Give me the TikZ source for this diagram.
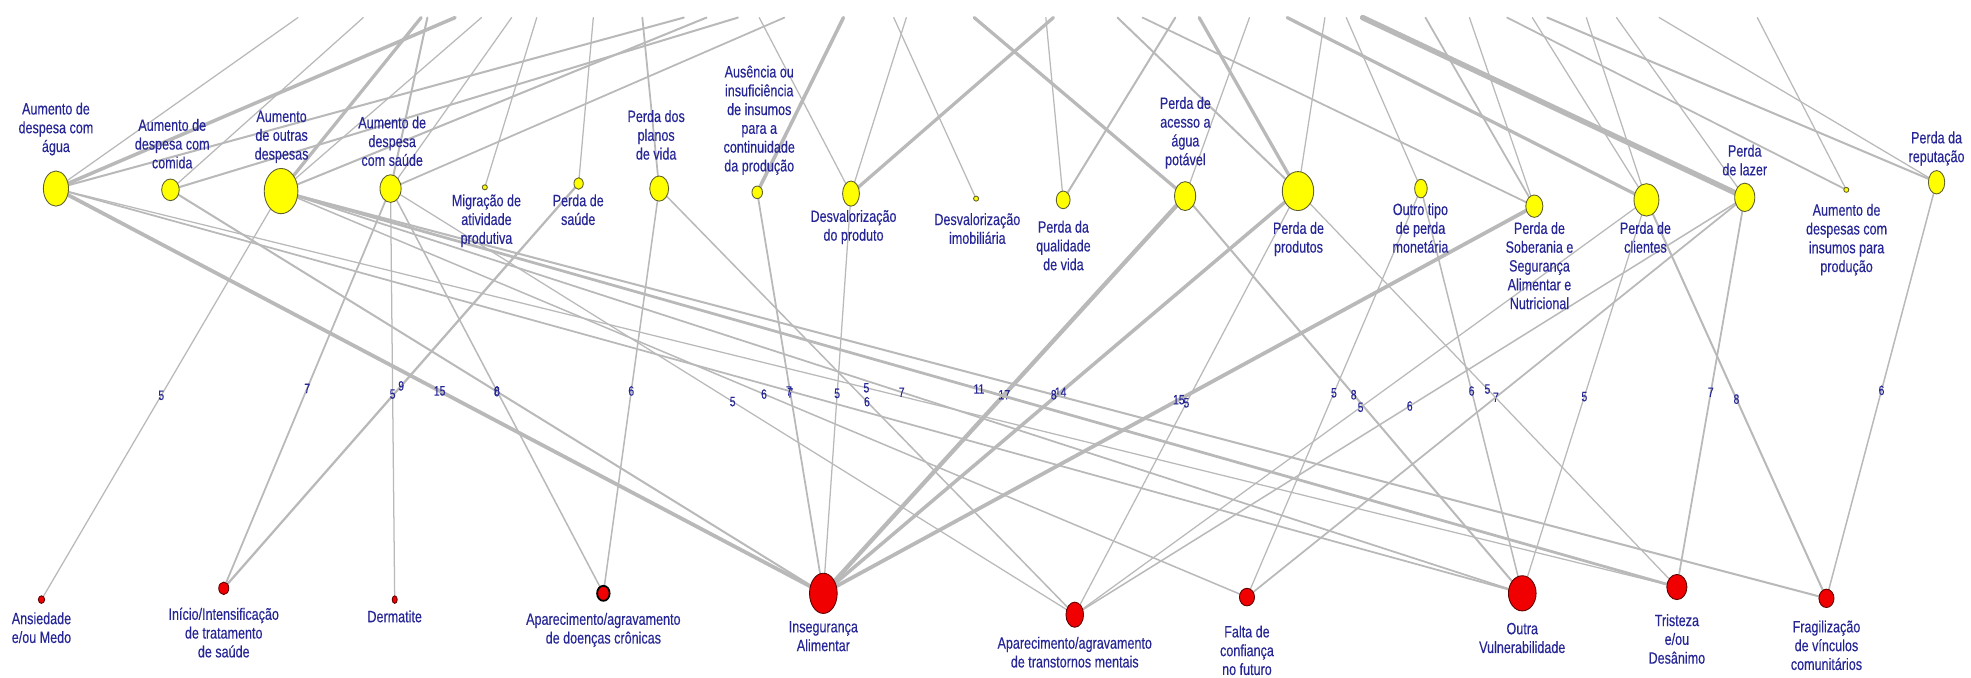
\documentclass[tikz,border=0pt]{standalone}
\usepackage{fontspec}
\setmainfont{Liberation Sans}
\newfontfamily\lblfont[FakeBold=0.35]{Liberation Sans}
\usetikzlibrary{shapes.geometric,backgrounds}
\definecolor{lblue}{RGB}{38,38,150}
\definecolor{edgegray}{RGB}{185,185,185}
\definecolor{ynode}{RGB}{255,255,0}
\definecolor{ybord}{RGB}{95,95,45}
\definecolor{rnode}{RGB}{240,0,0}
\definecolor{rbord}{RGB}{95,0,0}
\newcommand{\lbl}[1]{\scalebox{1}[1.3]{\begin{tabular}{@{}c@{}}#1\end{tabular}}}
\newcommand{\yn}[5]{\node[ynd, minimum width=#4*2pt, minimum height=#5*2pt] (#1) at (#2,#3) {};}
\newcommand{\rn}[5]{\node[rnd, minimum width=#4*2pt, minimum height=#5*2pt] (#1) at (#2,#3) {};}
\newcommand{\ed}[3]{\draw[edge, line width=#3*0.2pt] (#1.center) -- (#2.center);}
\newcommand{\edl}[3]{\draw[edge, line width=#3*0.2pt] (#1.center) -- node[elbl]{\scalebox{1}[1.3]{#3}} (#2.center);}
\begin{document}
\begin{tikzpicture}[x=1pt,y=-1pt,
  edge/.style={draw=edgegray, line cap=round},
  ynd/.style={ellipse, draw=ybord, fill=ynode, line width=0.7pt, inner sep=0pt, outer sep=0pt},
  rnd/.style={ellipse, draw=rbord, fill=rnode, line width=0.7pt, inner sep=0pt, outer sep=0pt},
  lab/.style={text=lblue, font=\lblfont\fontsize{10}{11.5}\selectfont, inner sep=0pt},
  elbl/.style={text=lblue, font=\lblfont\fontsize{8.3}{9}\selectfont, inner sep=0pt}]
\useasboundingbox (0,0) rectangle (1568,539);
\clip (0,0) rectangle (1568,539);
% middle (yellow) nodes
\yn{agua}{44.5}{150}{10}{14}
\yn{comida}{135.6}{151}{7}{8.6}
\yn{outras}{223.6}{152}{13.4}{18}
\yn{saude}{310.7}{150}{8.4}{11}
\yn{migr}{385.7}{149}{2}{2}
\yn{psaude}{460.3}{146}{3.7}{4.6}
\yn{planos}{524.4}{150}{7.5}{10}
\yn{ausen}{602.4}{153}{4.2}{5}
\yn{dprod}{677}{154}{6.7}{10}
\yn{dimob}{776.5}{158}{2}{2}
\yn{qual}{845.8}{159}{5.5}{7}
\yn{acesso}{942.8}{156}{8.4}{11.5}
\yn{prod}{1032.6}{152}{12.5}{15.5}
\yn{outro}{1130.4}{150}{5}{7.4}
\yn{sober}{1220.6}{164}{6.8}{8.9}
\yn{client}{1309.8}{159}{9.9}{12.9}
\yn{lazer}{1388}{157}{8}{11.3}
\yn{insum}{1468.8}{151}{2}{2}
\yn{reput}{1540.6}{145}{6.5}{9.3}
% bottom (red) nodes
\rn{ansi}{33}{477}{2.5}{3}
\rn{inic}{178}{468}{4}{5}
\rn{derm}{314}{477}{2}{3}
\node[rnd, draw=black, line width=1.4pt, minimum width=10pt, minimum height=12pt] (cron) at (480,472) {};
\rn{inseg}{655}{472}{11}{16}
\rn{trans}{855}{489}{7}{10}
\rn{falta}{992}{475}{6}{7}
\rn{outra}{1211}{472}{11}{14}
\rn{trist}{1334}{467}{8}{10}
\rn{frag}{1453}{476}{6}{7.3}
% free ends at the top edge
\foreach \n/\x in {t1/237,t2/289,t3/335,t4/340,t5/362,t6/383,t7/407,t8/427,t9/472,t10/511,
  t11/544,t12/562,t13/587,t14/624,t15/604,t16/671,t17/711,t18/721,t19/775,t20/832,
  t21/838,t22/889,t23/909,t24/935,t25/954,t26/994,t27/1024,t28/1054,t29/1071,t30/1084,
  t31/1134,t32/1169,t33/1199,t34/1219,t35/1231,t36/1262,t37/1286,t38/1320,t39/1398}
  {\coordinate (\n) at (\x,14);}
% labels of middle nodes
\node[lab] (agua-l) at (44.5,103) {\lbl{Aumento de\\despesa com\\água}};
\node[lab] (comida-l) at (137,116) {\lbl{Aumento de\\despesa com\\comida}};
\node[lab] (outras-l) at (224,109) {\lbl{Aumento\\de outras\\despesas}};
\node[lab] (saude-l) at (312,114) {\lbl{Aumento de\\despesa\\com saúde}};
\node[lab] (migr-l) at (387,176) {\lbl{Migração de\\atividade\\produtiva}};
\node[lab] (psaude-l) at (460,168.5) {\lbl{Perda de\\saúde}};
\node[lab] (planos-l) at (522,109) {\lbl{Perda dos\\planos\\de vida}};
\node[lab] (ausen-l) at (604,96) {\lbl{Ausência ou\\insuficiência\\de insumos\\para a\\continuidade\\da produção}};
\node[lab] (dprod-l) at (679,181) {\lbl{Desvalorização\\do produto}};
\node[lab] (dimob-l) at (777.5,183.5) {\lbl{Desvalorização\\imobiliária}};
\node[lab] (qual-l) at (846,197) {\lbl{Perda da\\qualidade\\de vida}};
\node[lab] (acesso-l) at (943,106) {\lbl{Perda de\\acesso a\\água\\potável}};
\node[lab] (prod-l) at (1033,190.5) {\lbl{Perda de\\produtos}};
\node[lab] (outro-l) at (1130,183) {\lbl{Outro tipo\\de perda\\monetária}};
\node[lab] (sober-l) at (1224.7,213) {\lbl{Perda de\\Soberania e\\Segurança\\Alimentar e\\Nutricional}};
\node[lab] (client-l) at (1309,190.5) {\lbl{Perda de\\clientes}};
\node[lab] (lazer-l) at (1388,129) {\lbl{Perda\\de lazer}};
\node[lab] (insum-l) at (1469,191) {\lbl{Aumento de\\despesas com\\insumos para\\produção}};
\node[lab] (reput-l) at (1540.6,118.5) {\lbl{Perda da\\reputação}};
% labels of bottom nodes
\node[lab] (ansi-l) at (33,501) {\lbl{Ansiedade\\e/ou Medo}};
\node[lab] (inic-l) at (178,505) {\lbl{Início/Intensificação\\de tratamento\\de saúde}};
\node[lab] (derm-l) at (314,492) {\lbl{Dermatite}};
\node[lab] (cron-l) at (480,501.5) {\lbl{Aparecimento/agravamento\\de doenças crônicas}};
\node[lab] (inseg-l) at (655,507.5) {\lbl{Insegurança\\Alimentar}};
\node[lab] (trans-l) at (855,520.5) {\lbl{Aparecimento/agravamento\\de transtornos mentais}};
\node[lab] (falta-l) at (992,519) {\lbl{Falta de\\confiança\\no futuro}};
\node[lab] (outra-l) at (1211,509) {\lbl{Outra\\Vulnerabilidade}};
\node[lab] (trist-l) at (1334,510) {\lbl{Tristeza\\e/ou\\Desânimo}};
\node[lab] (frag-l) at (1453,515) {\lbl{Fragilização\\de vínculos\\comunitários}};
\begin{pgfonlayer}{background}
% lines from the top edge
\ed{t1}{agua}{5} \ed{t2}{comida}{5} \ed{t3}{outras}{13} \ed{t4}{saude}{8}
\ed{t5}{agua}{14} \ed{t6}{outras}{5} \ed{t7}{saude}{5} \ed{t8}{migr}{5}
\ed{t9}{psaude}{5} \ed{t10}{planos}{7} \ed{t11}{agua}{8} \ed{t12}{outras}{8}
\ed{t13}{comida}{8} \ed{t14}{saude}{7} \ed{t15}{dprod}{5} \ed{t16}{ausen}{14}
\ed{t17}{dimob}{5} \ed{t18}{dprod}{5} \ed{t19}{acesso}{13} \ed{t20}{qual}{5}
\ed{t21}{dprod}{13} \ed{t22}{prod}{8} \ed{t23}{sober}{7} \ed{t24}{qual}{8}
\ed{t25}{prod}{13} \ed{t26}{acesso}{5} \ed{t27}{client}{13} \ed{t28}{prod}{5}
\ed{t29}{outro}{5} \ed{t30}{lazer}{22} \ed{t31}{sober}{7} \ed{t32}{sober}{5}
\ed{t33}{insum}{7} \ed{t34}{client}{5} \ed{t35}{reput}{8} \ed{t36}{client}{5}
\ed{t37}{lazer}{5} \ed{t38}{reput}{5} \ed{t39}{insum}{5}
% middle to bottom
\edl{outras}{ansi}{5}
\edl{saude}{inic}{7}
\edl{psaude}{inic}{9}
\edl{saude}{derm}{5}
\edl{agua}{inseg}{15}
\edl{comida}{inseg}{8}
\edl{saude}{cron}{6}
\edl{planos}{cron}{6}
\edl{ausen}{inseg}{7}
\edl{dprod}{inseg}{5}
\edl{acesso}{inseg}{17}
\edl{prod}{inseg}{14}
\edl{sober}{inseg}{15}
\edl{agua}{outra}{7}
\edl{outras}{falta}{6}
\edl{saude}{trans}{5}
\edl{planos}{trans}{6}
\edl{agua}{trist}{5}
\edl{outras}{outra}{7}
\edl{outras}{trist}{11}
\edl{outras}{frag}{8}
\edl{prod}{trans}{5}
\edl{outro}{falta}{5}
\edl{acesso}{outra}{8}
\edl{client}{trans}{5}
\edl{lazer}{trans}{6}
\edl{outro}{outra}{6}
\edl{lazer}{falta}{7}
\edl{prod}{trist}{5}
\edl{client}{outra}{5}
\edl{lazer}{trist}{7}
\edl{client}{frag}{8}
\edl{reput}{frag}{6}
\end{pgfonlayer}
\end{tikzpicture}
\end{document}
